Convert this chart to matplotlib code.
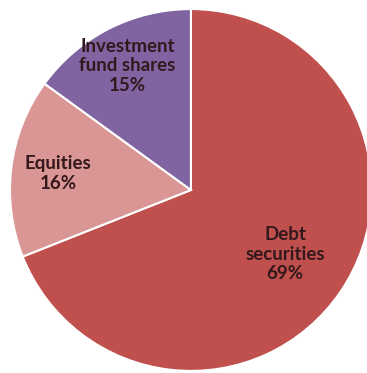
import numpy as np
import matplotlib
matplotlib.use("Agg")
import matplotlib.pyplot as plt

categories = ["Debt\nsecurities", "Equities", "Investment\nfund shares"]
values = [69, 16, 15]
colors = ["#C0504D", "#DA9694", "#8064A2"]
label_dist = [0.63, 0.74, 0.77]

fig = plt.figure(figsize=(3.67, 3.73), dpi=100)
ax = fig.add_axes([0.0272, 0.0054, 0.986, 0.9705])
wedges, _ = ax.pie(values, colors=colors, startangle=90, counterclock=False,
                   wedgeprops=dict(edgecolor="white", linewidth=1.5), radius=1.0)
for w, cat, v, d in zip(wedges, categories, values, label_dist):
    ang = np.deg2rad((w.theta1 + w.theta2) / 2)
    ax.text(d * np.cos(ang), d * np.sin(ang), f"{cat}\n{v}%", ha="center", va="center",
            fontsize=13.5, fontweight="bold", family="Lato", color="#33181C", linespacing=1.2)
ax.set_xlim(-1, 1)
ax.set_ylim(-1, 1)
ax.set_aspect("equal")
ax.axis("off")
fig.savefig("out.png", dpi=100)
